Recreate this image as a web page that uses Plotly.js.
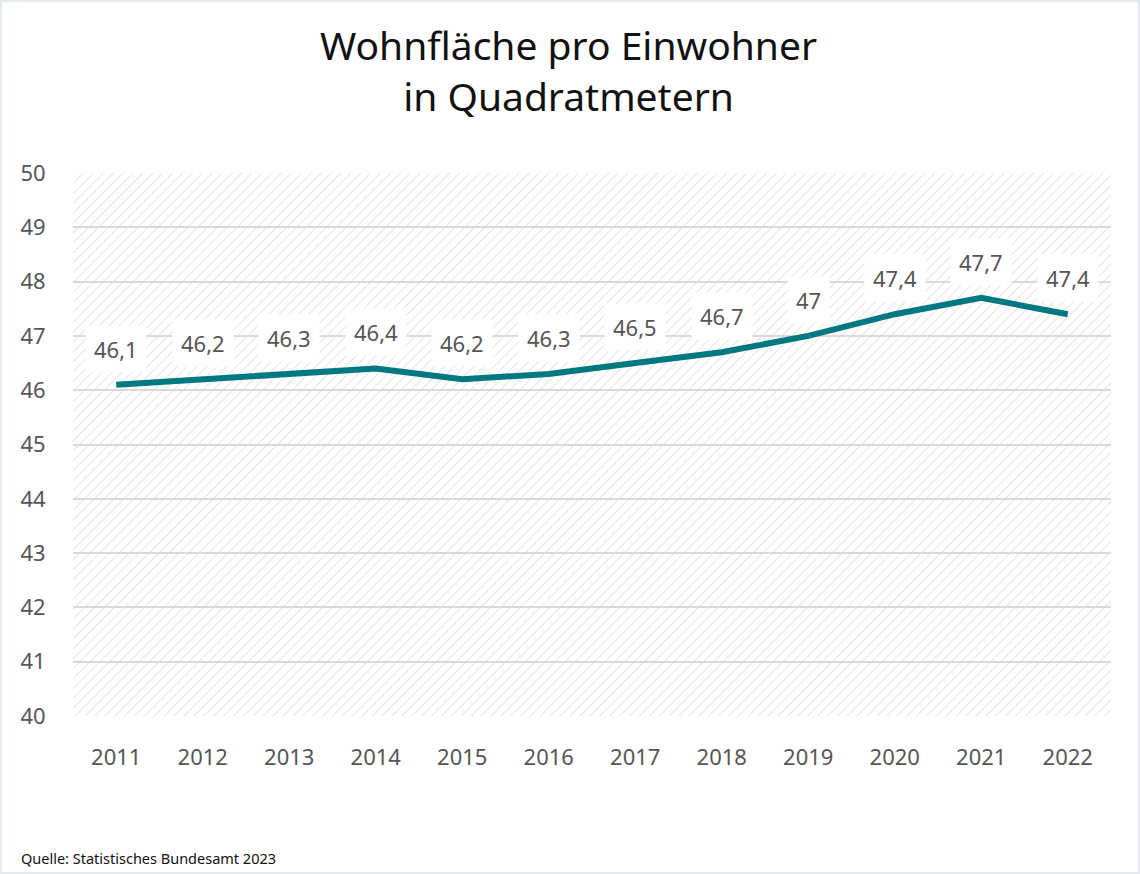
<!DOCTYPE html>
<html>
<head>
<meta charset="utf-8">
<script src="https://cdn.plot.ly/plotly-3.0.1.min.js"></script>
<style>
html,body{margin:0;padding:0;background:#fff;}
#wrap{position:relative;width:1140px;height:874px;}
#chart{width:1140px;height:874px;}
#frame{position:absolute;left:0;top:0;width:1136px;height:870px;border:2px solid #e3eaee;pointer-events:none;}
</style>
</head>
<body>
<div id="wrap"><div id="chart"></div><div id="frame"></div></div>
<script>
const years = [2011, 2012, 2013, 2014, 2015, 2016, 2017, 2018, 2019, 2020, 2021, 2022];
const wohnflaeche = [46.1, 46.2, 46.3, 46.4, 46.2, 46.3, 46.5, 46.7, 47.0, 47.4, 47.7, 47.4];
const yTicks = [40, 41, 42, 43, 44, 45, 46, 47, 48, 49, 50];
const titleText = 'Wohnfläche pro Einwohner<br>in Quadratmetern';
const sourceText = 'Quelle: Statistisches Bundesamt 2023';

const fmt = v => String(v).replace('.', ',');

const hatch = 'data:image/svg+xml;charset=utf-8,' + encodeURIComponent(
  '<svg xmlns="http://www.w3.org/2000/svg" width="1038" height="543">' +
  '<defs><pattern id="p" width="7" height="7" patternUnits="userSpaceOnUse" patternTransform="rotate(45)">' +
  '<line x1="0" y1="0" x2="0" y2="7" stroke="#e4e4e4" stroke-width="2"/></pattern></defs>' +
  '<rect width="1038" height="543" fill="url(#p)"/></svg>');

const annotations = years.map((y, i) => ({
  x: y, y: wohnflaeche[i], xref: 'x', yref: 'y',
  text: fmt(wohnflaeche[i]), showarrow: false, yshift: 36,
  bgcolor: '#ffffff', borderpad: 8,
  font: {family: 'Noto Sans, sans-serif', size: 22, color: '#555555'}
}));
annotations.push({
  xref: 'paper', yref: 'paper', x: 0.4773, y: 1.19, xanchor: 'center', yanchor: 'middle',
  text: titleText, showarrow: false,
  font: {family: 'Noto Sans, sans-serif', size: 39, color: '#111111'}
});
annotations.push({
  xref: 'paper', yref: 'paper', x: -0.052, y: -0.262, xanchor: 'left', yanchor: 'middle',
  text: sourceText, showarrow: false,
  font: {family: 'Noto Sans, sans-serif', size: 14.5, color: '#111111'}
});

const data = [{
  x: years, y: wohnflaeche, type: 'scatter', mode: 'lines',
  line: {color: '#007880', width: 6},
  hoverinfo: 'skip'
}];

const layout = {
  width: 1140, height: 874,
  margin: {l: 73, r: 29, t: 173, b: 158},
  paper_bgcolor: '#ffffff', plot_bgcolor: 'rgba(0,0,0,0)',
  separators: ',.',
  showlegend: false,
  xaxis: {
    range: [2010.5, 2022.5], tickvals: years, ticktext: years.map(String),
    showgrid: false, zeroline: false, showline: false,
    ticks: 'outside', ticklen: 22, tickcolor: 'rgba(0,0,0,0)',
    tickfont: {family: 'Noto Sans, sans-serif', size: 22, color: '#555555'},
    fixedrange: true
  },
  yaxis: {
    range: [40, 50], tickvals: yTicks, ticktext: yTicks.map(String),
    showgrid: true, gridcolor: '#d9d9d9', gridwidth: 2,
    zeroline: false, showline: false,
    ticks: 'outside', ticklen: 22, tickcolor: 'rgba(0,0,0,0)',
    tickfont: {family: 'Noto Sans, sans-serif', size: 22, color: '#555555'},
    fixedrange: true
  },
  images: [{
    source: hatch, xref: 'paper', yref: 'paper', x: 0, y: 1, sizex: 1, sizey: 1,
    xanchor: 'left', yanchor: 'top', sizing: 'stretch', layer: 'below'
  }],
  annotations: annotations
};

Plotly.newPlot('chart', data, layout, {staticPlot: true, displayModeBar: false});
</script>
</body>
</html>
